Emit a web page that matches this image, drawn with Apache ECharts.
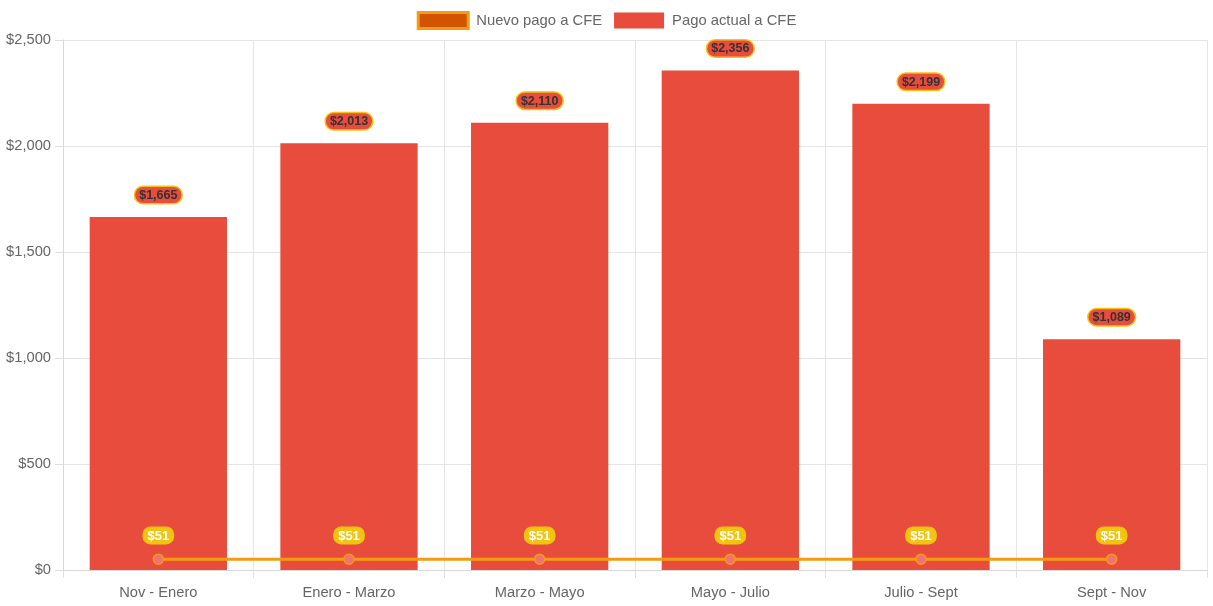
<!DOCTYPE html>
<html>
<head>
<meta charset="utf-8">
<script src="https://cdn.jsdelivr.net/npm/echarts@6/dist/echarts.min.js"></script>
<style>html,body{margin:0;padding:0;background:#fff}#c{width:1213px;height:606px}</style>
</head>
<body>
<div id="c"></div>
<script>
const categories = ['Nov - Enero', 'Enero - Marzo', 'Marzo - Mayo', 'Mayo - Julio', 'Julio - Sept', 'Sept - Nov'];
const pagoActual = [1665, 2013, 2110, 2356, 2199, 1089];
const nuevoPago = [51, 51, 51, 51, 51, 51];
const yTicks = { min: 0, max: 2500, interval: 500 };

const fmt = v => '$' + Number(v).toLocaleString('en-US');
const font = 'Arial, "Liberation Sans", Helvetica, sans-serif';

const chart = echarts.init(document.getElementById('c'));
chart.setOption({
  animation: false,
  textStyle: { fontFamily: font },
  legend: {
    top: 6, left: 'center', itemWidth: 50, itemHeight: 16, itemGap: 12,
    textStyle: { fontSize: 14.8, color: '#666', fontFamily: font, padding: [0, 0, 0, 3] },
    data: [
      { name: 'Nuevo pago a CFE', icon: 'rect', itemStyle: { color: '#d35400', borderColor: '#f39c12', borderWidth: 3 } },
      { name: 'Pago actual a CFE', icon: 'rect', itemStyle: { color: '#e74c3c', borderColor: '#e74c3c', borderWidth: 0 } }
    ]
  },
  grid: { left: 63, right: 6, top: 40, bottom: 36, containLabel: false },
  xAxis: {
    type: 'category', data: categories, boundaryGap: true,
    axisLine: { lineStyle: { color: '#d9d9d9' } },
    axisTick: { show: true, length: 8, lineStyle: { color: '#e0e0e0' } },
    splitLine: { show: true, lineStyle: { color: '#e5e5e5' } },
    axisLabel: { color: '#666', fontSize: 14.7, margin: 15, fontFamily: font }
  },
  yAxis: {
    type: 'value', min: yTicks.min, max: yTicks.max, interval: yTicks.interval,
    axisLine: { show: true, lineStyle: { color: '#d9d9d9' } },
    axisTick: { show: true, length: 8, lineStyle: { color: '#e0e0e0' } },
    splitLine: { show: true, lineStyle: { color: '#e5e5e5' } },
    axisLabel: { color: '#666', fontSize: 14.7, margin: 12, formatter: fmt, fontFamily: font }
  },
  series: [
    {
      name: 'Nuevo pago a CFE', type: 'line', data: nuevoPago, z: 5,
      lineStyle: { color: '#f39c12', width: 3 },
      itemStyle: { color: '#f1707a', borderColor: '#f39c12', borderWidth: 1.5 },
      symbol: 'circle', symbolSize: 10,
      label: {
        show: true, position: 'top', distance: 9, formatter: p => fmt(p.value),
        color: '#fff', fontWeight: 'bold', fontSize: 13, fontFamily: font,
        backgroundColor: '#f1c40f', borderRadius: 8, padding: [3, 5, 2, 5]
      }
    },
    {
      name: 'Pago actual a CFE', type: 'bar', data: pagoActual, barCategoryGap: '28%',
      itemStyle: { color: '#e74c3c' },
      label: {
        show: true, position: 'top', distance: 14, formatter: p => fmt(p.value),
        color: '#333', fontWeight: 'bold', fontSize: 12.5, fontFamily: font,
        backgroundColor: '#e74c3c', borderColor: '#f1c40f', borderWidth: 1.5,
        borderRadius: 8, padding: [2, 4, 1, 4]
      }
    }
  ]
});
</script>
</body>
</html>
